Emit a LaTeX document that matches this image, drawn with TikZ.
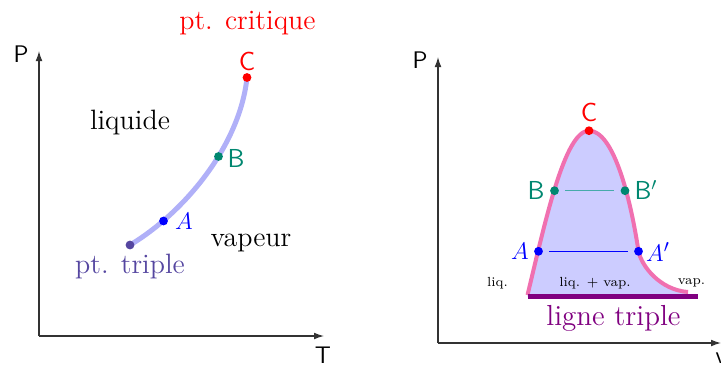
\documentclass[tikz,border=0pt]{standalone}
\usepackage{fontspec}
\usetikzlibrary{arrows.meta}
\definecolor{curvecol}{RGB}{176,176,248}
\definecolor{tpcol}{RGB}{85,70,160}
\definecolor{tealcol}{RGB}{0,135,112}
\definecolor{teallight}{RGB}{70,170,170}
\definecolor{pinkcol}{RGB}{240,112,176}
\definecolor{fillcol}{RGB}{204,204,255}
\definecolor{triplecol}{RGB}{128,0,128}
\begin{document}
\begin{tikzpicture}[x=0.5pt,y=-0.5pt,
  axis/.style={line width=0.6pt, draw=black!80, -{Latex[length=5pt,width=3.4pt]}},
  dot/.style={circle, inner sep=0pt, minimum size=4.4pt},
  txt/.style={inner sep=0pt, font=\fontsize{14}{16}\selectfont},
  axlbl/.style={inner sep=0pt, font=\sffamily\fontsize{12}{14}\selectfont},
  lbl/.style={inner sep=0pt, font=\sffamily\fontsize{13}{15}\selectfont},
  mlbl/.style={inner sep=0pt, font=\fontsize{13}{15}\selectfont},
  small/.style={inner sep=0pt, font=\fontsize{6.6}{8}\selectfont},
  ]
\useasboundingbox (0,0) rectangle (721,365);

% ---------------- left diagram ----------------
\coordinate (O1) at (39,336);
\coordinate (Y1) at (39,51);
\coordinate (X1) at (324,336);
\draw[axis] (O1) -- (Y1);
\draw[axis] (O1) -- (X1);
\node[axlbl] (P1) at (21,54) {P};
\node[axlbl] (T1) at (323,355) {T};

\coordinate (tp) at (130,245);
\coordinate (Cc) at (247,77.5);
\draw[line width=2.5pt, curvecol, line cap=round] (tp) .. controls (185,212) and (240,145) .. (Cc);
\node[dot, fill=tpcol] (tpd) at (tp) {};
\node[dot, fill=blue] (Ad) at (163.5,221) {};
\node[dot, fill=tealcol] (Bd) at (218.5,156.5) {};
\node[dot, fill=red] (Cd) at (Cc) {};

\node[txt, text=red] (crit) at (247.5,23) {pt. critique};
\node[lbl, text=red] (Cl) at (247,61) {C};
\node[lbl, text=tealcol] (Bl) at (236,158.5) {B};
\node[mlbl, text=blue] (Al) at (184,221.5) {$A$};
\node[txt] (liq) at (130,122) {liquide};
\node[txt] (vap) at (251,242.5) {vapeur};
\node[txt, text=tpcol] (trip) at (130,266.5) {pt. triple};

% ---------------- right diagram ----------------
\coordinate (O2) at (438,343);
\coordinate (Y2) at (438,57);
\coordinate (X2) at (721,343);
\draw[axis] (O2) -- (Y2);
\draw[axis] (O2) -- (X2);
\node[axlbl] (P2) at (420,60) {P};
\node[axlbl] (V2) at (721,358) {v};

\coordinate (S) at (527.5,295);
\coordinate (A2) at (538.5,251.3);
\coordinate (B2) at (554.5,190.7);
\coordinate (C2) at (589,130.7);
\coordinate (Bp) at (625,190.7);
\coordinate (Ap) at (638.5,251.3);
\coordinate (E) at (688,292);
\coordinate (TL) at (528,296.7);
\coordinate (TR) at (698,296.7);

\path[fill=fillcol] (S) .. controls (546,218) and (565,130.7) .. (C2)
   .. controls (613,130.7) and (630,195) .. (Ap)
   .. controls (641.5,266) and (660,290) .. (E) -- (688,296.5) -- (527.5,296.5) -- cycle;
\draw[pinkcol, line width=2pt] (S) .. controls (546,218) and (565,130.7) .. (C2)
   .. controls (613,130.7) and (630,195) .. (Ap)
   .. controls (641.5,266) and (660,290) .. (E);
\draw[triplecol, line width=2.3pt] (TL) -- (TR);

\node[dot, fill=red] (C2d) at (C2) {};
\node[dot, fill=tealcol] (B2d) at (B2) {};
\node[dot, fill=tealcol] (Bpd) at (Bp) {};
\node[dot, fill=blue] (A2d) at (A2) {};
\node[dot, fill=blue] (Apd) at (Ap) {};
\draw[teallight, line width=0.7pt, shorten >=3pt, shorten <=3pt] (B2d) -- (Bpd);
\draw[blue, line width=0.5pt, shorten >=3pt, shorten <=3pt] (A2d) -- (Apd);

\node[lbl, text=red] (C2l) at (589,112) {C};
\node[lbl, text=tealcol] (B2l) at (536,190.5) {B};
\node[lbl, text=tealcol] (Bpl) at (646,190) {B$'$};
\node[mlbl, text=blue] (A2l) at (520,251.5) {$A$};
\node[mlbl, text=blue] (Apl) at (658,252) {$A'$};
\node[small] (lq) at (497.5,283) {liq.};
\node[small] (lqv) at (595,283) {liq. + vap.};
\node[small] (vp) at (691.5,283) {vap.};
\node[txt, text=triplecol, font=\fontsize{14.5}{17}\selectfont] (lt) at (613.5,318.5) {ligne triple};
\end{tikzpicture}
\end{document}
